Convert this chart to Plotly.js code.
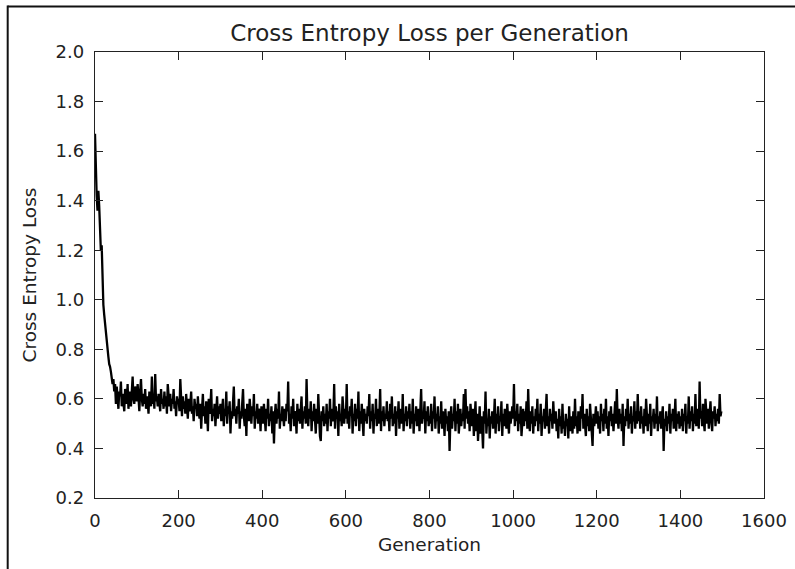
<!DOCTYPE html>
<html>
<head>
<meta charset="utf-8">
<script src="https://cdn.plot.ly/plotly-3.0.1.min.js"></script>
<style>html,body{margin:0;padding:0;background:#fff;}</style>
</head>
<body>
<div id="chart" style="width:795px;height:569px;"></div>
<script>
// Generation step between stored samples
const genStep = 2;

// Cross entropy loss values, one every 2 generations
const loss0_48 = [1.67,1.50,1.42,1.36,1.44,1.38,1.28,1.20,1.22,1.05,0.98,0.94,0.90,0.86,0.82,0.79,0.77,0.74,0.73,0.71,0.69,0.66,0.68,0.63,0.66];
const loss50_98 = [0.58,0.65,0.60,0.56,0.63,0.61,0.67,0.57,0.62,0.59,0.55,0.64,0.60,0.58,0.66,0.56,0.61,0.63,0.57,0.62,0.69,0.60,0.58,0.65,0.62];
const loss100_148 = [0.59,0.66,0.61,0.55,0.63,0.68,0.60,0.57,0.62,0.58,0.64,0.56,0.61,0.59,0.54,0.63,0.60,0.57,0.69,0.58,0.62,0.56,0.70,0.59,0.61];
const loss150_198 = [0.57,0.62,0.59,0.55,0.64,0.58,0.60,0.56,0.63,0.57,0.61,0.54,0.66,0.59,0.57,0.62,0.55,0.60,0.58,0.64,0.56,0.59,0.53,0.61,0.58];
const loss200_248 = [0.60,0.55,0.68,0.57,0.53,0.61,0.56,0.59,0.54,0.62,0.57,0.52,0.60,0.55,0.58,0.63,0.54,0.57,0.51,0.60,0.56,0.58,0.53,0.61,0.55];
const loss250_298 = [0.52,0.58,0.48,0.56,0.62,0.53,0.57,0.50,0.59,0.55,0.47,0.60,0.54,0.57,0.64,0.51,0.56,0.53,0.58,0.49,0.55,0.61,0.52,0.57,0.54];
const loss300_348 = [0.58,0.51,0.55,0.60,0.49,0.56,0.53,0.63,0.50,0.57,0.54,0.59,0.46,0.55,0.52,0.58,0.65,0.53,0.56,0.50,0.57,0.54,0.60,0.48,0.55];
const loss350_398 = [0.52,0.57,0.64,0.53,0.49,0.56,0.45,0.58,0.54,0.51,0.60,0.55,0.50,0.57,0.53,0.62,0.48,0.55,0.52,0.58,0.50,0.56,0.54,0.47,0.57];
const loss400_448 = [0.55,0.50,0.58,0.53,0.47,0.56,0.52,0.60,0.49,0.54,0.51,0.57,0.46,0.55,0.42,0.53,0.58,0.50,0.56,0.52,0.63,0.48,0.54,0.51,0.57];
const loss450_498 = [0.53,0.49,0.56,0.51,0.58,0.55,0.67,0.50,0.54,0.47,0.57,0.52,0.60,0.49,0.55,0.53,0.46,0.58,0.51,0.56,0.50,0.54,0.61,0.48,0.55];
const loss500_548 = [0.52,0.57,0.50,0.68,0.54,0.49,0.56,0.52,0.59,0.47,0.55,0.51,0.58,0.53,0.46,0.56,0.50,0.62,0.52,0.45,0.43,0.55,0.51,0.57,0.49];
const loss550_598 = [0.54,0.50,0.58,0.47,0.55,0.52,0.60,0.49,0.56,0.51,0.53,0.66,0.48,0.57,0.52,0.55,0.45,0.58,0.51,0.54,0.49,0.61,0.53,0.50,0.56];
const loss600_648 = [0.52,0.66,0.50,0.55,0.48,0.57,0.53,0.60,0.46,0.54,0.51,0.58,0.49,0.56,0.52,0.63,0.47,0.55,0.50,0.58,0.53,0.45,0.56,0.51,0.54];
const loss650_698 = [0.50,0.57,0.53,0.62,0.48,0.55,0.51,0.58,0.46,0.54,0.52,0.60,0.49,0.56,0.50,0.53,0.64,0.47,0.55,0.51,0.57,0.49,0.54,0.52,0.59];
const loss700_748 = [0.51,0.55,0.47,0.58,0.52,0.61,0.49,0.54,0.50,0.57,0.45,0.55,0.52,0.59,0.48,0.56,0.53,0.50,0.62,0.47,0.54,0.51,0.57,0.49,0.55];
const loss750_798 = [0.52,0.58,0.48,0.55,0.50,0.60,0.46,0.54,0.51,0.57,0.49,0.53,0.56,0.47,0.55,0.64,0.50,0.54,0.52,0.59,0.46,0.55,0.51,0.57,0.49];
const loss800_848 = [0.53,0.50,0.58,0.47,0.55,0.52,0.61,0.48,0.54,0.51,0.57,0.46,0.53,0.50,0.59,0.48,0.55,0.52,0.45,0.56,0.50,0.53,0.47,0.55,0.39];
const loss850_898 = [0.52,0.57,0.48,0.54,0.51,0.60,0.47,0.55,0.50,0.58,0.46,0.53,0.56,0.49,0.54,0.51,0.62,0.48,0.64,0.52,0.57,0.50,0.55,0.47,0.58];
const loss900_948 = [0.53,0.49,0.56,0.45,0.52,0.59,0.47,0.54,0.43,0.51,0.57,0.46,0.53,0.48,0.40,0.55,0.50,0.63,0.46,0.52,0.49,0.56,0.44,0.53,0.50];
const loss950_998 = [0.55,0.48,0.52,0.60,0.46,0.54,0.50,0.57,0.47,0.53,0.51,0.59,0.45,0.54,0.49,0.56,0.52,0.48,0.58,0.51,0.46,0.55,0.50,0.53,0.57];
const loss1000_1048 = [0.52,0.66,0.49,0.55,0.51,0.58,0.47,0.54,0.50,0.57,0.45,0.53,0.56,0.49,0.55,0.51,0.59,0.48,0.64,0.52,0.47,0.55,0.50,0.57,0.46];
const loss1050_1098 = [0.53,0.49,0.56,0.51,0.60,0.47,0.54,0.50,0.58,0.45,0.53,0.51,0.56,0.48,0.55,0.62,0.49,0.53,0.46,0.56,0.51,0.54,0.48,0.59,0.52];
const loss1100_1148 = [0.50,0.55,0.47,0.52,0.44,0.56,0.49,0.53,0.46,0.58,0.48,0.51,0.45,0.54,0.49,0.52,0.44,0.57,0.47,0.50,0.53,0.46,0.55,0.48,0.60];
const loss1150_1198 = [0.49,0.53,0.46,0.55,0.50,0.47,0.57,0.52,0.62,0.48,0.54,0.50,0.45,0.56,0.49,0.53,0.47,0.58,0.51,0.46,0.41,0.54,0.49,0.52,0.57];
const loss1200_1248 = [0.50,0.55,0.48,0.53,0.46,0.58,0.51,0.54,0.47,0.56,0.50,0.60,0.48,0.53,0.45,0.55,0.51,0.57,0.49,0.54,0.47,0.52,0.59,0.50,0.64];
const loss1250_1298 = [0.52,0.48,0.56,0.50,0.54,0.47,0.58,0.41,0.53,0.49,0.56,0.51,0.60,0.48,0.54,0.50,0.57,0.46,0.53,0.51,0.59,0.48,0.55,0.50,0.62];
const loss1300_1348 = [0.51,0.55,0.48,0.57,0.50,0.53,0.46,0.56,0.49,0.60,0.52,0.47,0.54,0.50,0.58,0.45,0.53,0.51,0.56,0.48,0.54,0.50,0.61,0.47,0.53];
const loss1350_1398 = [0.50,0.55,0.48,0.53,0.57,0.39,0.52,0.49,0.55,0.47,0.53,0.50,0.58,0.46,0.54,0.51,0.56,0.48,0.52,0.60,0.47,0.54,0.50,0.55,0.48];
const loss1400_1448 = [0.53,0.49,0.56,0.47,0.54,0.51,0.58,0.46,0.53,0.50,0.61,0.48,0.55,0.51,0.57,0.47,0.54,0.50,0.62,0.49,0.53,0.56,0.48,0.67,0.52];
const loss1450_1498 = [0.55,0.49,0.58,0.51,0.47,0.60,0.53,0.50,0.56,0.48,0.54,0.59,0.51,0.47,0.55,0.52,0.57,0.49,0.54,0.51,0.56,0.50,0.62,0.53,0.55];

const xTicks = [0,200,400,600,800,1000,1200,1400,1600];
const yTicks = [0.2,0.4,0.6,0.8,1.0,1.2,1.4,1.6,1.8,2.0];

const loss = [].concat(loss0_48,loss50_98,loss100_148,loss150_198,loss200_248,loss250_298,
  loss300_348,loss350_398,loss400_448,loss450_498,loss500_548,loss550_598,loss600_648,
  loss650_698,loss700_748,loss750_798,loss800_848,loss850_898,loss900_948,loss950_998,
  loss1000_1048,loss1050_1098,loss1100_1148,loss1150_1198,loss1200_1248,loss1250_1298,
  loss1300_1348,loss1350_1398,loss1400_1448,loss1450_1498);
const generation = loss.map((_, i) => i * genStep);

const fontFam = 'DejaVu Sans, sans-serif';
const axisCommon = {
  showgrid: false, zeroline: false, showline: true, linecolor: '#222', linewidth: 1.3,
  mirror: 'ticks', ticks: 'inside', ticklen: 8, tickwidth: 1, tickcolor: '#222',
  tickfont: {family: fontFam, size: 18, color: '#222'}
};

Plotly.newPlot('chart', [{
  x: generation, y: loss, type: 'scatter', mode: 'lines',
  line: {color: '#000', width: 2.3}, hoverinfo: 'skip'
}], {
  width: 795, height: 569,
  margin: {l: 95, r: 31, t: 52, b: 71},
  paper_bgcolor: '#fff', plot_bgcolor: '#fff',
  showlegend: false,
  title: {text: 'Cross Entropy Loss per Generation', font: {family: fontFam, size: 23, color: '#222'},
          xref: 'paper', x: 0.5, xanchor: 'center', yref: 'container', y: 0.942, yanchor: 'middle'},
  xaxis: Object.assign({}, axisCommon, {
    range: [0, 1600], tickvals: xTicks, ticktext: xTicks.map(String), ticklabelstandoff: 6,
    title: {text: 'Generation', font: {family: fontFam, size: 18.5, color: '#222'}, standoff: 8}
  }),
  yaxis: Object.assign({}, axisCommon, {
    range: [0.2, 2.0], tickvals: yTicks, ticktext: yTicks.map(v => v.toFixed(1)), ticklabelstandoff: 6,
    title: {text: 'Cross Entropy Loss', font: {family: fontFam, size: 18.5, color: '#222'}, standoff: 14}
  }),
  shapes: [
    {type: 'line', xref: 'paper', yref: 'paper', x0: -0.1305, x1: -0.1305, y0: 1.104, y1: -0.16,
     line: {color: '#111', width: 2}},
    {type: 'line', xref: 'paper', yref: 'paper', x0: -0.1305, x1: 1.05, y0: 1.102, y1: 1.102,
     line: {color: '#111', width: 2}}
  ]
}, {staticPlot: true});
</script>
</body>
</html>
